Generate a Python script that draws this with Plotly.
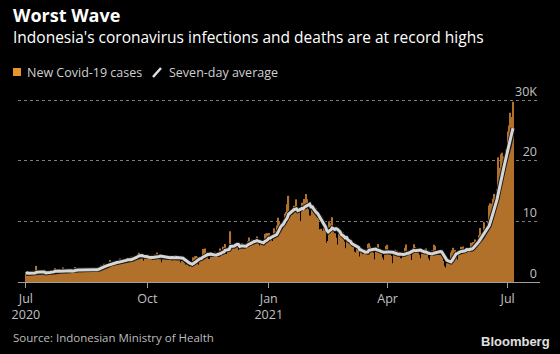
import pandas as pd
import plotly.graph_objects as go

# ---------------- data (daily new cases) ----------------
start_date = "2020-07-01"

jul20 = [1385, 1624, 1301, 1447, 1607, 1209, 1268, 1853, 2657, 1611, 1681, 1281, 1282, 1591, 1522, 1574,
         1462, 1752, 1639, 1693, 1655, 1882, 2266, 1761, 1868, 1492, 1525, 1748, 2381, 1904, 2040]
aug20 = [1560, 1519, 1679, 1922, 1815, 1902, 2473, 2277, 1893, 1687, 1693, 1942, 2098, 2307, 2345, 2081,
         1821, 1673, 1902, 2266, 2197, 2094, 1877, 2037, 2306, 2447, 2719, 2549, 3003, 2858, 2743]
sep20 = [2775, 3075, 3622, 3269, 3128, 3444, 2880, 3046, 3307, 3861, 3737, 3806, 3636, 3141, 3507, 3963,
         3635, 3891, 4168, 3989, 4176, 4071, 4465, 4634, 4823, 4494, 3874, 3509, 4002, 4284]
oct20 = [4174, 4317, 4007, 3992, 3622, 4056, 4538, 4850, 4094, 4294, 4497, 3267, 3906, 4127, 4411, 4301,
         4010, 4105, 3373, 3602, 4267, 4432, 4369, 4070, 3732, 3222, 3520, 4029, 3143, 2897, 2873]
nov20 = [2696, 2618, 2973, 3356, 4065, 4262, 4294, 4173, 2853, 3880, 3770, 5444, 5272, 5533, 4261, 3807,
         3811, 4265, 4798, 4792, 4998, 4360, 4442, 4192, 5534, 4917, 5828, 5418, 6267, 4617]
dec20 = [5092, 5533, 8369, 5803, 6027, 6089, 5754, 6058, 5292, 6033, 6310, 6388, 5699, 5489, 6120, 6725,
         7354, 6689, 6982, 6848, 6165, 6347, 7514, 6743, 6050, 6528, 5854, 6154, 7903, 8002, 8074]
jan21 = [8072, 6585, 6877, 6753, 8854, 8367, 9321, 10617, 10046, 9640, 8692, 10047, 11278, 11557, 12818,
         14224, 11287, 9086, 11975, 12568, 11703, 13632, 12191, 11788, 9994, 13094, 11948, 13695, 14518,
         13665, 12001]
feb21 = [10994, 9961, 11984, 11434, 11749, 12156, 10827, 8242, 8700, 8776, 8435, 9869, 8844, 6462, 6765,
         10029, 9687, 10700, 9039, 8054, 7300, 6208, 8493, 8021, 7654, 8232, 6700, 5560]
mar21 = [6680, 5712, 6808, 6971, 5800, 5767, 5018, 4853, 5633, 5926, 4209, 5638, 4607, 4714, 3651, 5414,
         6279, 6412, 5901, 5561, 4832, 3757, 5327, 5404, 6264, 5034, 4651, 4052, 3686, 5174, 5937]
apr21 = [6142, 5001, 4731, 4310, 3086, 4549, 5325, 5142, 4949, 4963, 3935, 3122, 4236, 5656, 6177, 5041,
         5114, 4803, 3630, 5549, 6243, 5720, 5436, 5524, 4487, 3929, 4669, 5241, 5444, 5532]
may21 = [4512, 3902, 3573, 4369, 5285, 6130, 5932, 4627, 4659, 3922, 4608, 5000, 3448, 2633, 2385, 3080,
         3158, 3660, 4871, 5246, 5647, 5296, 4726, 3711, 4940, 5205, 5797, 5862, 5304, 5293, 5008]
jun21 = [4824, 5246, 6486, 5862, 6594, 6993, 6301, 6294, 7725, 8892, 8083, 8161, 9868, 8189, 8161, 9944,
         12624, 12990, 12906, 13737, 14536, 13668, 15308, 20574, 18872, 21095, 21342, 20694, 20467, 21807]
jul21 = [24836, 25830, 27913, 27233, 29745]

cases = jul20 + aug20 + sep20 + oct20 + nov20 + dec20 + jan21 + feb21 + mar21 + apr21 + may21 + jun21 + jul21

tick_dates = ["2020-07-01", "2020-10-01", "2021-01-01", "2021-04-01", "2021-07-01"]
tick_labels = ["Jul<br>2020", "Oct", "Jan<br>2021", "Apr", "Jul"]
y_ticks = [0, 10000, 20000, 30000]
y_labels = ["0", "10", "20", "30K"]

title = "Worst Wave"
subtitle = "Indonesia's coronavirus infections and deaths are at record highs"
legend_bar = "New Covid-19 cases"
legend_line = "Seven-day average"
source = "Source: Indonesian Ministry of Health"

# ---------------- figure ----------------
dates = pd.date_range(start_date, periods=len(cases), freq="D")
s = pd.Series(cases, index=dates)
avg = s.rolling(7, min_periods=1).mean()

W, H = 560, 354
ML, MR, MT, MB = 18, 20, 80, 72
PW, PH = W - ML - MR, H - MT - MB


def px(x):
    return (x - ML) / PW


def py(y):
    return (H - MB - y) / PH


FONT = "Open Sans"
BAR = "#b2712b"

fig = go.Figure()
fig.add_trace(go.Bar(x=dates, y=s.values, marker=dict(color=BAR, line=dict(width=0)),
                     showlegend=False, hoverinfo="skip"))
fig.add_trace(go.Scatter(x=avg.index, y=avg.values, mode="lines",
                         line=dict(color="#1a1a1a", width=5), showlegend=False, hoverinfo="skip"))
fig.add_trace(go.Scatter(x=avg.index, y=avg.values, mode="lines",
                         line=dict(color="#d6d6d6", width=3), showlegend=False, hoverinfo="skip"))

fig.update_layout(
    width=W, height=H,
    margin=dict(l=ML, r=MR, t=MT, b=MB),
    paper_bgcolor="#000000", plot_bgcolor="#000000",
    bargap=0.12,
    font=dict(family=FONT, color="#bdbdbd", size=12),
    xaxis=dict(
        type="date",
        range=["2020-06-25", "2021-07-25 12:00"],
        tickvals=tick_dates, ticktext=tick_labels,
        showgrid=False, showline=True, linecolor="#a0a0a0", linewidth=1,
        ticks="outside", ticklen=5, tickcolor="#a0a0a0", tickwidth=1,
        tickfont=dict(family=FONT, size=12.5, color="#c0c0c0"),
        zeroline=False,
    ),
    yaxis=dict(
        range=[0, 33333], side="right",
        tickvals=y_ticks, ticktext=y_labels,
        ticklabelposition="inside top",
        showgrid=True, gridcolor="#7a7a7a", griddash="dot", gridwidth=1,
        tickfont=dict(family=FONT, size=12.5, color="#c0c0c0"),
        zeroline=False, showline=False, ticks="",
    ),
)

ann = []
ann.append(dict(text="<b>" + title + "</b>", x=px(11), y=py(15), xanchor="left", yanchor="middle",
                font=dict(family=FONT, size=18, color="#ffffff")))
ann.append(dict(text=subtitle, x=px(11), y=py(37), xanchor="left", yanchor="middle",
                font=dict(family=FONT, size=15.5, color="#ffffff")))
ann.append(dict(text=legend_bar, x=px(25), y=py(72), xanchor="left", yanchor="middle",
                font=dict(family=FONT, size=12.5, color="#d0d0d0")))
ann.append(dict(text=legend_line, x=px(167), y=py(72), xanchor="left", yanchor="middle",
                font=dict(family=FONT, size=12.5, color="#d0d0d0")))
ann.append(dict(text=source, x=px(11), y=py(337), xanchor="left", yanchor="middle",
                font=dict(family=FONT, size=11.5, color="#bdbdbd")))
ann.append(dict(text="<b>Bloomberg</b>", x=px(552), y=py(341), xanchor="right", yanchor="middle",
                font=dict(family="Liberation Sans", size=13, color="#e0e0e0")))
for a in ann:
    a.update(xref="paper", yref="paper", showarrow=False)
fig.update_layout(annotations=ann)

fig.update_layout(shapes=[
    dict(type="rect", xref="paper", yref="paper", x0=px(13), x1=px(21), y0=py(76), y1=py(68),
         fillcolor="#e8952f", line=dict(width=0)),
    dict(type="line", xref="paper", yref="paper", x0=px(153), x1=px(161), y0=py(77), y1=py(68),
         line=dict(color="#e0e0e0", width=2.5)),
])

fig.write_html("out.html")
